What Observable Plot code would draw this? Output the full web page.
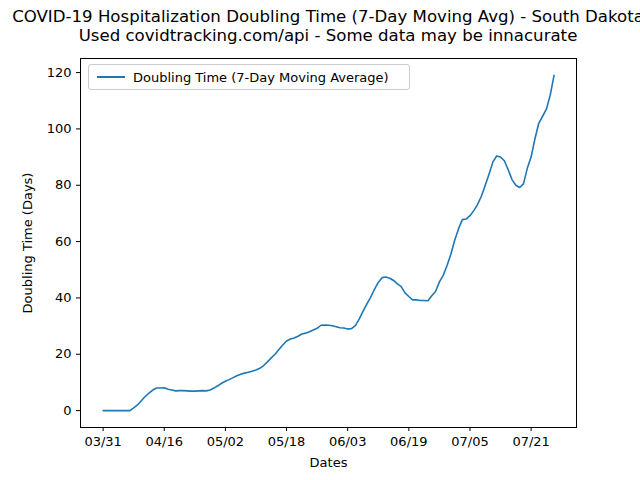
<!DOCTYPE html>
<html><head><meta charset="utf-8">
<script src="https://cdn.jsdelivr.net/npm/d3@7"></script>
<script src="https://cdn.jsdelivr.net/npm/@observablehq/plot@0.6"></script>
<style>
body{margin:0;background:#fff;font-family:"DejaVu Sans",sans-serif;}
#wrap{position:relative;width:640px;height:480px;overflow:hidden}
#title{position:absolute;left:0;top:7px;width:656px;text-align:center;font-size:16.6px;line-height:19px;color:#000;white-space:nowrap}
#chart{position:absolute;left:0;top:46px}
#legend{position:absolute;left:88px;top:64px;width:322px;height:26px;border:1px solid #ccc;border-radius:3px;background:#fff;font-size:13px;display:flex;align-items:center;box-sizing:border-box}
#legend span.l{display:inline-block;width:28px;height:2px;background:#1f77b4;margin:0 8px 0 8px}
</style></head><body>
<div id="wrap">
<div id="title">COVID-19 Hospitalization Doubling Time (7-Day Moving Avg) - South Dakota<br>Used covidtracking.com/api - Some data may be innacurate</div>
<div id="chart"></div>
<div id="legend"><span class="l"></span>Doubling Time (7-Day Moving Average)</div>
</div>
<script>
const startDate = new Date(2020, 2, 31);
const doubling = [0,0,0,0,0,0,0,0,1,2,3.5,5,6.2,7.3,8,8,8.1,7.6,7.3,7,7.1,7.1,7,6.9,6.9,7,7.1,7,7.3,8,8.8,9.7,10.4,11,11.7,12.4,12.9,13.3,13.6,14,14.4,15,16,17.3,18.7,20,21.7,23.3,24.7,25.4,25.8,26.4,27.2,27.5,28,28.6,29.2,30.3,30.4,30.3,30.1,29.8,29.4,29.3,29,29.1,30.2,32.5,35.2,37.8,40.2,43,45.5,47.2,47.4,47,46.2,45,44,41.8,40.5,39.3,39.3,39.1,39.1,39,40.8,42.3,45.7,48,51.5,55.5,60.5,64.5,67.8,68,69.2,71,73.2,76.2,80,84,88.3,90.4,90,88.7,85.5,82,80,79.2,80.5,86,90,96.5,102,104.5,107,112,119];
const dates = doubling.map((_, i) => d3.timeDay.offset(startDate, i));
const tickDates = d3.range(0, 113, 16).map(i => d3.timeDay.offset(startDate, i));
const yTicks = [0, 20, 40, 60, 80, 100, 120];
const data = doubling.map((v, i) => ({date: dates[i], value: v}));

const chart = Plot.plot({
  width: 640,
  height: 434,
  marginTop: 12,
  marginBottom: 53,
  marginLeft: 80,
  marginRight: 64,
  style: {fontFamily: "DejaVu Sans", fontSize: "13px", color: "#000", background: "#fff"},
  x: {type: "time", domain: [d3.timeHour.offset(startDate, -5.9*24), d3.timeHour.offset(startDate, 123.9*24)],
      ticks: tickDates, tickFormat: d3.timeFormat("%m/%d"), label: "Dates", labelAnchor: "center", labelArrow: "none", labelOffset: 39, tickSize: 4},
  y: {domain: [-6, 125], ticks: yTicks, label: "Doubling Time (Days)", labelAnchor: "center", labelArrow: "none", labelOffset: 58, tickSize: 4},
  marks: [
    Plot.frame({stroke: "#000"}),
    Plot.line(data, {x: "date", y: "value", stroke: "#1f77b4", strokeWidth: 1.6})
  ]
});
document.getElementById("chart").append(chart);
</script>
</body></html>
